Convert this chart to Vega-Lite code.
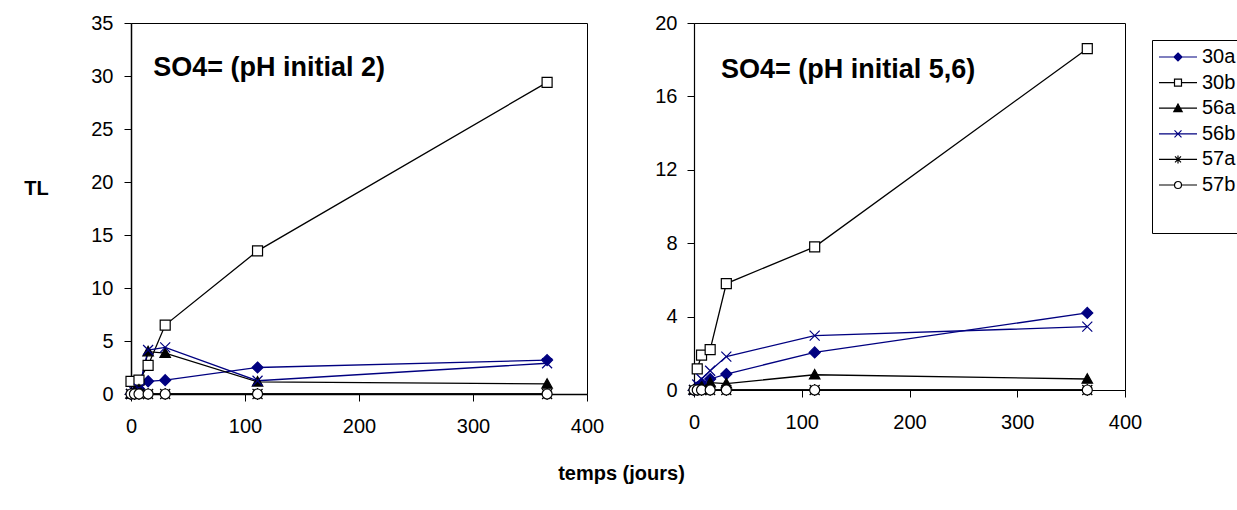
{
  "$schema": "https://vega.github.io/schema/vega-lite/v6.json",
  "background": "white",
  "padding": {"left": 23, "top": 12, "right": 0, "bottom": 0},
  "config": {
    "font": "Liberation Sans",
    "view": {"stroke": "black", "strokeWidth": 1},
    "axis": {"grid": false, "domainColor": "black", "tickColor": "black", "labelColor": "black", "labelFont": "Liberation Sans", "labelFontSize": 20, "tickSize": 7, "titleFont": "Liberation Sans", "titleFontSize": 20, "titleFontWeight": "bold", "titleColor": "black"},
    "legend": {"orient": "none", "legendX": 458, "legendY": 17, "strokeColor": "black", "fillColor": "white", "padding": 6, "symbolSize": 400, "symbolStrokeWidth": 1.2, "labelFont": "Liberation Sans", "labelFontSize": 20, "labelColor": "black", "labelOffset": 22, "rowPadding": 4.6, "titleOrient": "bottom", "titleFontSize": 20, "titlePadding": 12}
  },
  "datasets": {
    "panels": [
      {"panel": "L", "series": "30a", "t": 0, "tl": 0},
      {"panel": "L", "series": "30a", "t": 3, "tl": 0.2},
      {"panel": "L", "series": "30a", "t": 7, "tl": 0.5},
      {"panel": "L", "series": "30a", "t": 15, "tl": 1.2},
      {"panel": "L", "series": "30a", "t": 30, "tl": 1.3},
      {"panel": "L", "series": "30a", "t": 111, "tl": 2.5},
      {"panel": "L", "series": "30a", "t": 365, "tl": 3.2},
      {"panel": "L", "series": "30b", "t": 0, "tl": 1.2},
      {"panel": "L", "series": "30b", "t": 7, "tl": 1.3},
      {"panel": "L", "series": "30b", "t": 15, "tl": 2.7},
      {"panel": "L", "series": "30b", "t": 30, "tl": 6.5},
      {"panel": "L", "series": "30b", "t": 111, "tl": 13.5},
      {"panel": "L", "series": "30b", "t": 365, "tl": 29.4},
      {"panel": "L", "series": "56a", "t": 0, "tl": 0},
      {"panel": "L", "series": "56a", "t": 3, "tl": 0.2},
      {"panel": "L", "series": "56a", "t": 7, "tl": 0.4},
      {"panel": "L", "series": "56a", "t": 15, "tl": 4.0},
      {"panel": "L", "series": "56a", "t": 30, "tl": 3.85},
      {"panel": "L", "series": "56a", "t": 111, "tl": 1.15},
      {"panel": "L", "series": "56a", "t": 365, "tl": 0.95},
      {"panel": "L", "series": "56b", "t": 0, "tl": 0},
      {"panel": "L", "series": "56b", "t": 3, "tl": 0.2},
      {"panel": "L", "series": "56b", "t": 7, "tl": 0.5},
      {"panel": "L", "series": "56b", "t": 15, "tl": 4.15},
      {"panel": "L", "series": "56b", "t": 30, "tl": 4.4},
      {"panel": "L", "series": "56b", "t": 111, "tl": 1.25},
      {"panel": "L", "series": "56b", "t": 365, "tl": 2.9},
      {"panel": "L", "series": "57a", "t": 0, "tl": 0},
      {"panel": "L", "series": "57a", "t": 3, "tl": 0},
      {"panel": "L", "series": "57a", "t": 7, "tl": 0},
      {"panel": "L", "series": "57a", "t": 15, "tl": 0},
      {"panel": "L", "series": "57a", "t": 30, "tl": 0},
      {"panel": "L", "series": "57a", "t": 111, "tl": 0},
      {"panel": "L", "series": "57a", "t": 365, "tl": 0},
      {"panel": "L", "series": "57b", "t": 0, "tl": 0},
      {"panel": "L", "series": "57b", "t": 3, "tl": 0},
      {"panel": "L", "series": "57b", "t": 7, "tl": 0},
      {"panel": "L", "series": "57b", "t": 15, "tl": 0},
      {"panel": "L", "series": "57b", "t": 30, "tl": 0},
      {"panel": "L", "series": "57b", "t": 111, "tl": 0},
      {"panel": "L", "series": "57b", "t": 365, "tl": 0},
      {"panel": "R", "series": "30a", "t": 0, "tl": 0},
      {"panel": "R", "series": "30a", "t": 3, "tl": 0.15},
      {"panel": "R", "series": "30a", "t": 7, "tl": 0.35},
      {"panel": "R", "series": "30a", "t": 15, "tl": 0.6},
      {"panel": "R", "series": "30a", "t": 30, "tl": 0.87},
      {"panel": "R", "series": "30a", "t": 112, "tl": 2.05},
      {"panel": "R", "series": "30a", "t": 365, "tl": 4.2},
      {"panel": "R", "series": "30b", "t": 3, "tl": 1.15},
      {"panel": "R", "series": "30b", "t": 7, "tl": 1.9},
      {"panel": "R", "series": "30b", "t": 15, "tl": 2.2},
      {"panel": "R", "series": "30b", "t": 30, "tl": 5.8},
      {"panel": "R", "series": "30b", "t": 112, "tl": 7.8},
      {"panel": "R", "series": "30b", "t": 365, "tl": 18.6},
      {"panel": "R", "series": "56a", "t": 0, "tl": 0},
      {"panel": "R", "series": "56a", "t": 3, "tl": 0.1},
      {"panel": "R", "series": "56a", "t": 7, "tl": 0.2},
      {"panel": "R", "series": "56a", "t": 15, "tl": 0.4},
      {"panel": "R", "series": "56a", "t": 30, "tl": 0.35},
      {"panel": "R", "series": "56a", "t": 112, "tl": 0.83},
      {"panel": "R", "series": "56a", "t": 365, "tl": 0.6},
      {"panel": "R", "series": "56b", "t": 0, "tl": 0},
      {"panel": "R", "series": "56b", "t": 3, "tl": 0.3},
      {"panel": "R", "series": "56b", "t": 7, "tl": 0.6},
      {"panel": "R", "series": "56b", "t": 15, "tl": 1.05},
      {"panel": "R", "series": "56b", "t": 30, "tl": 1.82},
      {"panel": "R", "series": "56b", "t": 112, "tl": 2.96},
      {"panel": "R", "series": "56b", "t": 365, "tl": 3.45},
      {"panel": "R", "series": "57a", "t": 0, "tl": 0},
      {"panel": "R", "series": "57a", "t": 3, "tl": 0},
      {"panel": "R", "series": "57a", "t": 7, "tl": 0},
      {"panel": "R", "series": "57a", "t": 15, "tl": 0},
      {"panel": "R", "series": "57a", "t": 30, "tl": 0},
      {"panel": "R", "series": "57a", "t": 112, "tl": 0},
      {"panel": "R", "series": "57a", "t": 365, "tl": 0},
      {"panel": "R", "series": "57b", "t": 0, "tl": 0},
      {"panel": "R", "series": "57b", "t": 3, "tl": 0},
      {"panel": "R", "series": "57b", "t": 7, "tl": 0},
      {"panel": "R", "series": "57b", "t": 15, "tl": 0},
      {"panel": "R", "series": "57b", "t": 30, "tl": 0},
      {"panel": "R", "series": "57b", "t": 112, "tl": 0},
      {"panel": "R", "series": "57b", "t": 365, "tl": 0}
    ],
    "legendRows": [
      {"series": "30a"}, {"series": "30b"}, {"series": "56a"}, {"series": "56b"}, {"series": "57a"}, {"series": "57b"}
    ]
  },
  "spacing": 107,
  "bounds": "flush",
  "resolve": {"scale": {"color": "independent", "shape": "independent", "fill": "independent", "stroke": "independent"}, "legend": {"shape": "independent", "fill": "independent", "stroke": "independent", "color": "independent"}},
  "hconcat": [
    {
      "width": 456,
      "height": 371,
      "layer": [
        {
          "data": {"name": "panels"},
          "transform": [{"filter": "datum.panel === 'L'"}],
          "encoding": {
            "x": {"field": "t", "type": "quantitative", "scale": {"domain": [0, 400], "nice": false, "zero": false}, "axis": {"values": [0, 100, 200, 300, 400], "title": "temps (jours)", "titleX": 490, "titleY": 85, "titleAlign": "center", "titleBaseline": "alphabetic", "labelPadding": 15, "domainWidth": 1.5, "labelFlush": false}},
            "y": {"field": "tl", "type": "quantitative", "scale": {"domain": [0, 35], "nice": false}, "axis": {"values": [0, 5, 10, 15, 20, 25, 30, 35], "title": "TL", "titleAngle": 0, "titleX": -95, "titleY": 165, "titleAlign": "center", "titleBaseline": "middle", "labelPadding": 11, "domainWidth": 1.5}}
          },
          "layer": [
            {
              "mark": {"type": "line", "strokeWidth": 1.3},
              "encoding": {"color": {"field": "series", "type": "nominal", "scale": {"domain": ["30a", "30b", "56a", "56b", "57a", "57b"], "range": ["#000080", "#000000", "#000000", "#000080", "#000000", "#000000"]}, "legend": null}}
            },
            {
              "mark": {"type": "point", "opacity": 1, "size": 100, "strokeWidth": 1.2},
              "encoding": {
                "shape": {"field": "series", "type": "nominal", "scale": {"domain": ["30a", "30b", "56a", "56b", "57a", "57b"], "range": ["M0,-1.1L1.1,0L0,1.1L-1.1,0Z", "M-1,-1H1V1H-1Z", "M0,-1.05L1.05,0.85H-1.05Z", "M-1,-1L1,1M-1,1L1,-1", "M-1,-1L1,1M-1,1L1,-1M0,-1.2V1.2", "circle"]}, "legend": null},
                "fill": {"field": "series", "type": "nominal", "scale": {"domain": ["30a", "30b", "56a", "56b", "57a", "57b"], "range": ["#000080", "#ffffff", "#000000", "transparent", "transparent", "#ffffff"]}, "legend": null},
                "stroke": {"field": "series", "type": "nominal", "scale": {"domain": ["30a", "30b", "56a", "56b", "57a", "57b"], "range": ["#000080", "#000000", "#000000", "#000080", "#000000", "#000000"]}, "legend": null}
              }
            }
          ]
        },
        {
          "data": {"values": [{"label": "SO4= (pH initial 2)"}]},
          "mark": {"type": "text", "align": "left", "baseline": "alphabetic", "fontSize": 27, "fontWeight": "bold", "font": "Liberation Sans", "color": "black"},
          "encoding": {"text": {"field": "label"}, "x": {"datum": 19.5, "type": "quantitative"}, "y": {"datum": 30, "type": "quantitative"}}
        }
      ]
    },
    {
      "width": 431,
      "height": 367,
      "resolve": {"scale": {"shape": "independent", "fill": "independent", "stroke": "independent"}},
      "layer": [
        {
          "data": {"name": "panels"},
          "transform": [{"filter": "datum.panel === 'R'"}],
          "encoding": {
            "x": {"field": "t", "type": "quantitative", "scale": {"domain": [0, 400], "nice": false, "zero": false}, "axis": {"values": [0, 100, 200, 300, 400], "title": null, "labelPadding": 15, "domainWidth": 1.2, "labelFlush": false}},
            "y": {"field": "tl", "type": "quantitative", "scale": {"domain": [0, 20], "nice": false}, "axis": {"values": [0, 4, 8, 12, 16, 20], "title": null, "labelPadding": 10, "domainWidth": 1.2}}
          },
          "layer": [
            {
              "mark": {"type": "line", "strokeWidth": 1.3},
              "encoding": {"color": {"field": "series", "type": "nominal", "scale": {"domain": ["30a", "30b", "56a", "56b", "57a", "57b"], "range": ["#000080", "#000000", "#000000", "#000080", "#000000", "#000000"]}, "legend": null}}
            },
            {
              "mark": {"type": "point", "opacity": 1, "size": 100, "strokeWidth": 1.2},
              "encoding": {
                "shape": {"field": "series", "type": "nominal", "scale": {"domain": ["30a", "30b", "56a", "56b", "57a", "57b"], "range": ["M0,-1.1L1.1,0L0,1.1L-1.1,0Z", "M-1,-1H1V1H-1Z", "M0,-1.05L1.05,0.85H-1.05Z", "M-1,-1L1,1M-1,1L1,-1", "M-1,-1L1,1M-1,1L1,-1M0,-1.2V1.2", "circle"]}, "legend": null},
                "fill": {"field": "series", "type": "nominal", "scale": {"domain": ["30a", "30b", "56a", "56b", "57a", "57b"], "range": ["#000080", "#ffffff", "#000000", "transparent", "transparent", "#ffffff"]}, "legend": null},
                "stroke": {"field": "series", "type": "nominal", "scale": {"domain": ["30a", "30b", "56a", "56b", "57a", "57b"], "range": ["#000080", "#000000", "#000000", "#000080", "#000000", "#000000"]}, "legend": null}
              }
            }
          ]
        },
        {
          "data": {"values": [{"label": "SO4= (pH initial 5,6)"}]},
          "mark": {"type": "text", "align": "left", "baseline": "alphabetic", "fontSize": 27, "fontWeight": "bold", "font": "Liberation Sans", "color": "black"},
          "encoding": {"text": {"field": "label"}, "x": {"datum": 25, "type": "quantitative"}, "y": {"datum": 17, "type": "quantitative"}}
        },
        {
          "data": {"name": "legendRows"},
          "mark": {"type": "point", "opacity": 1, "size": 0, "strokeWidth": 1.2},
          "encoding": {
            "shape": {"field": "series", "type": "nominal", "title": "\u00a0", "scale": {"domain": ["30a", "30b", "56a", "56b", "57a", "57b"], "range": ["M-1,0H2.8M0.9,-0.4L1.3,0L0.9,0.4L0.5,0Z", "M-1,0H0.55M1.25,0H2.8M0.55,-0.35H1.25V0.35H0.55Z", "M-1,0H2.8M0.9,-0.42L1.32,0.35H0.48Z", "M-1,0H2.8M0.55,-0.35L1.25,0.35M0.55,0.35L1.25,-0.35", "M-1,0H2.8M0.6,-0.3L1.2,0.3M0.6,0.3L1.2,-0.3M0.9,-0.4V0.4", "M-1,0H0.55M1.25,0H2.8M0.55,0A0.35,0.35 0 1,0 1.25,0A0.35,0.35 0 1,0 0.55,0Z"]}},
            "fill": {"field": "series", "type": "nominal", "title": "\u00a0", "scale": {"domain": ["30a", "30b", "56a", "56b", "57a", "57b"], "range": ["#000080", "#ffffff", "#000000", "transparent", "transparent", "#ffffff"]}},
            "stroke": {"field": "series", "type": "nominal", "title": "\u00a0", "scale": {"domain": ["30a", "30b", "56a", "56b", "57a", "57b"], "range": ["#000080", "#000000", "#000000", "#000080", "#000000", "#000000"]}}
          }
        }
      ]
    }
  ]
}
